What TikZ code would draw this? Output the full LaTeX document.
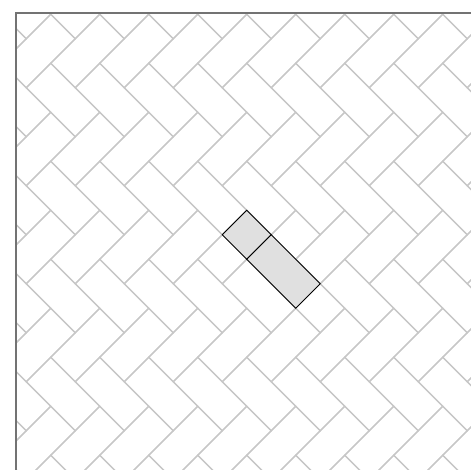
\documentclass[tikz,border=0pt]{standalone}
\usepackage{tikz}
\usetikzlibrary{calc}

\begin{document}
\begin{tikzpicture}[x=1pt, y=1pt,
    tile/.style={draw=black!22, line width=1.1pt},
    border/.style={draw=black!55, line width=2pt},
    hilite/.style={draw=black, fill=black!12, line width=0.9pt}
]

% Page size
\useasboundingbox (0,0) rectangle (471,470);

% Herringbone floor, drawn in the tilted brick grid
\begin{scope}
    \clip (15.5,0) rectangle (471,457);
    \begin{scope}[shift={(222.25,235.25)},
                  x={(24.5pt,24.5pt)}, y={(24.5pt,-24.5pt)}]
        % one lying and one standing brick per lattice step
        \foreach \i in {-13,...,13} {
            \foreach \k in {-6,...,6} {
                \draw[tile] ({\i+2*\k},{\i-2*\k+1})
                    -- ++(2,0) -- ++(0,1) -- ++(-2,0) -- cycle;
                \draw[tile] ({\i+2*\k},{\i-2*\k+2})
                    -- ++(1,0) -- ++(0,2) -- ++(-1,0) -- cycle;
            }
        }
        % highlighted pieces
        \draw[hilite] (0,0) -- (1,0) -- (1,1) -- (0,1) -- cycle;
        \draw[hilite] (0,1) -- (1,1) -- (1,3) -- (0,3) -- cycle;
    \end{scope}
\end{scope}

% Frame
\draw[border] (15.5,-5) -- (15.5,457) -- (480,457);

\end{tikzpicture}
\end{document}
